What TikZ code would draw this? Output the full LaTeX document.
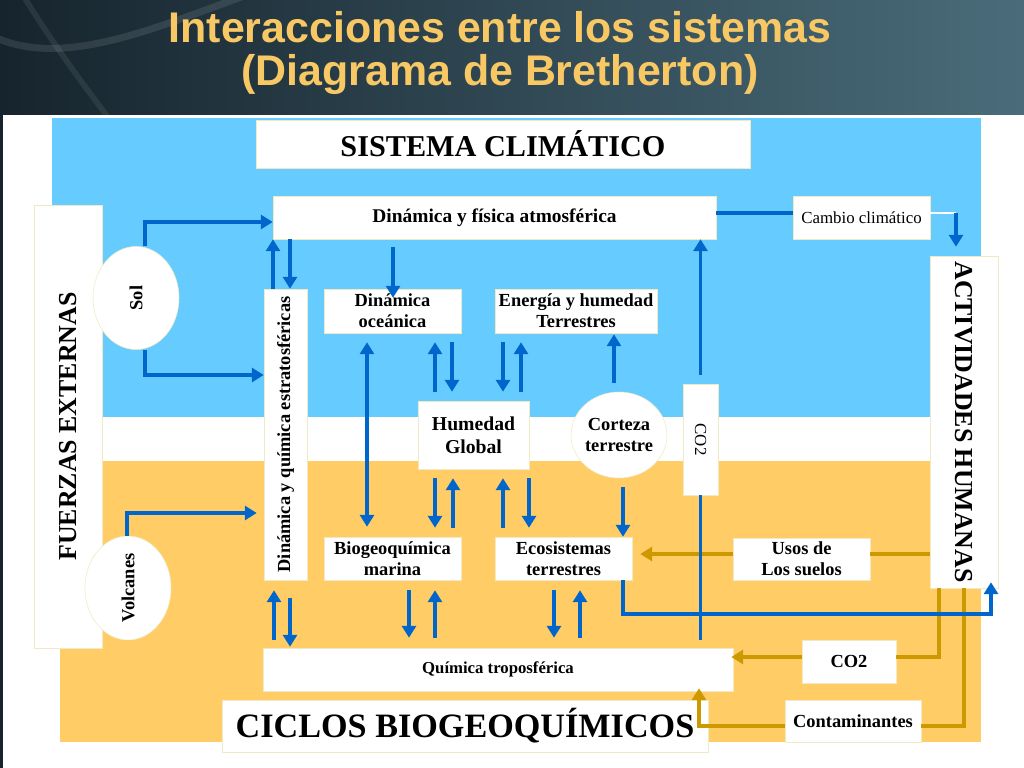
\documentclass[tikz,border=0pt]{standalone}
\usepackage{fontspec}
\usepackage{graphicx}
\setmainfont{Liberation Serif}
\newfontfamily\headfont{Liberation Sans}
\usetikzlibrary{arrows.meta,positioning,calc,shapes.geometric}
\definecolor{BretBlue}{HTML}{0066CC}
\definecolor{BretGold}{HTML}{CC9900}
\definecolor{BretSky}{HTML}{66CCFF}
\definecolor{BretSand}{HTML}{FFCC66}
\definecolor{BretEdge}{HTML}{EFEAC4}
\definecolor{BretTitle}{HTML}{F8C864}
\definecolor{BgDark}{HTML}{16242D}
\definecolor{BgLight}{HTML}{4A6C7A}
\newcommand{\pxu}{0.025cm}
\newcommand{\lblfont}{\fontsize{13.1pt}{15pt}\selectfont\bfseries}

\begin{document}
\begin{tikzpicture}[x=0.025cm,y=-0.025cm]
    \tikzset{sysbox/.style={draw=BretEdge,line width=0.4pt,fill=white,inner sep=0pt,
      align=center,font=\lblfont},
      sysoval/.style={sysbox,ellipse},
      boxsize/.style 2 args={minimum width=#1*\pxu,minimum height=#2*\pxu},
      gap/.style={shorten <=#1*\pxu,shorten >=#1*\pxu},
      flow/.style={-{Triangle[length=8.5pt,width=10pt]},BretBlue,line width=2.8pt},
      flowboth/.style={flow,{Triangle[length=8.5pt,width=10pt]}-{Triangle[length=8.5pt,width=10pt]}},
      flowline/.style={BretBlue,line width=2.8pt},
      goldflow/.style={-{Triangle[length=8.5pt,width=10pt]},BretGold,line width=2.8pt},
      goldline/.style={BretGold,line width=2.8pt}}
    \useasboundingbox (0,0) rectangle (1024,768);
    % backdrop, panel and the two spheres
    \shade[left color=BgDark,right color=BgLight] (0,0) rectangle (1024,768);
    \draw[white,opacity=0.10,line width=5pt] (-10,35) .. controls (60,70) and (150,30) .. (260,-10);
    \draw[white,opacity=0.08,line width=4pt] (20,-10) .. controls (50,40) and (80,80) .. (110,120);
    \fill[white] (3,115) rectangle (1024,768);
    \fill[BretSky] (52,118) rectangle (981,417);
    \fill[BretSand] (60,461) rectangle (981,742);
    \node[anchor=base,text=BretTitle,font=\headfont\bfseries\fontsize{30.5pt}{36pt}\selectfont]
      (tit1) at (500,43) {Interacciones entre los sistemas};
    \node[anchor=base,text=BretTitle,font=\headfont\bfseries\fontsize{30.5pt}{36pt}\selectfont]
      (tit2) at (500,86) {(Diagrama de Bretherton)};
    % boxes
    \node[sysbox,boxsize={494}{48},font=\fontsize{21.5pt}{26pt}\selectfont\bfseries] (clima) at (503,144) {SISTEMA CLIMÁTICO};
    \node[sysbox,boxsize={443}{43},font=\fontsize{13.8pt}{16pt}\selectfont\bfseries] (atm) at (494.5,217.5) {Dinámica y física atmosférica};
    \node[sysbox,boxsize={137}{43},font=\fontsize{12pt}{14pt}\selectfont] (cambio) at (861.5,217.5) {Cambio climático};
    \node[sysbox,boxsize={68}{443},font=\fontsize{18.4pt}{22pt}\selectfont\bfseries] (fuerzas) at (68,426.5) {\rotatebox{90}{FUERZAS EXTERNAS}};
    \node[sysoval,boxsize={86}{103}] (sol) at (136,298) {\rotatebox{90}{Sol}};
    \node[sysoval,boxsize={86}{104}] (volc) at (128,588) {\rotatebox{90}{Volcanes}};
    \node[sysbox,boxsize={43}{291}] (strat) at (285.5,434.5) {\rotatebox{90}{Dinámica y química estratosféricas}};
    \node[sysbox,boxsize={68}{332},font=\fontsize{18.4pt}{22pt}\selectfont\bfseries] (act) at (964,422) {\rotatebox{-90}{ACTIVIDADES HUMANAS}};
    \node[sysbox,boxsize={137}{44}] (ocean) at (392.5,311) {Dinámica\\oceánica};
    \node[sysbox,boxsize={162}{44}] (energia) at (576,311) {Energía y humedad\\Terrestres};
    \node[sysbox,boxsize={111}{68},font=\fontsize{14pt}{16.5pt}\selectfont\bfseries] (humedad) at (473.5,435) {Humedad\\Global};
    \node[sysoval,boxsize={92}{86}] (corteza) at (619,435) {Corteza\\terrestre};
    \node[sysbox,boxsize={35}{111},font=\fontsize{12pt}{14pt}\selectfont] (co2a) at (700.5,439.5) {\rotatebox{-90}{CO2}};
    \node[sysbox,boxsize={137}{43}] (marina) at (392.5,558.5) {Biogeoquímica\\marina};
    \node[sysbox,boxsize={137}{43}] (ecos) at (563.5,558.5) {Ecosistemas\\terrestres};
    \node[sysbox,boxsize={137}{42}] (usos) at (801.5,559) {Usos de\\Los suelos};
    \node[sysbox,boxsize={470}{43},font=\fontsize{11.9pt}{14pt}\selectfont\bfseries] (tropo) at (498,669.5) {Química troposférica};
    \node[sysbox,boxsize={486}{52},font=\fontsize{24.3pt}{28pt}\selectfont\bfseries] (ciclos) at (465,726) {CICLOS BIOGEOQUÍMICOS};
    \node[sysbox,boxsize={94}{43}] (co2b) at (849,661.5) {CO2};
    \node[sysbox,boxsize={136}{42}] (contam) at (853,721) {Contaminantes};
    % human activities
    \draw[goldline] ([yshift=5*\pxu]act.west |- usos.east) -- ([yshift=5*\pxu]usos.east);
    \draw[goldflow,shorten >=8*\pxu] ([yshift=5*\pxu]usos.west) -- ([yshift=5*\pxu]usos.west -| ecos.east);
    \draw[goldline] ([xshift=-25*\pxu]act.south) |- ([yshift=4.5*\pxu]co2b.east);
    \draw[goldflow,shorten >=-2*\pxu] ([yshift=4.5*\pxu]co2b.west) -- ([yshift=4.5*\pxu]co2b.west -| tropo.east);
    \draw[goldline] (act.south) |- ([yshift=-5*\pxu]contam.east);
    \draw[goldflow,shorten >=-3*\pxu] ([yshift=-5*\pxu]contam.west) -| ([xshift=201*\pxu]tropo.south);
    % sun and volcanoes
    \draw[flow] (145,0 |- sol.north) |- ([yshift=-4.5*\pxu]atm.west);
    \draw[flow] (145,0 |- sol.south) |- ([yshift=59.5*\pxu]strat.west);
    \draw[flow,shorten >=7*\pxu] (127,0 |- volc.north) |- ([yshift=-78.5*\pxu]strat.west);
    % stratosphere
    \draw[flow] (273,0 |- strat.north) -- (273,0 |- atm.south);
    \draw[flow] (290,0 |- atm.south) -- (290,0 |- strat.north);
    \draw[flow,shorten <=8*\pxu,shorten >=10*\pxu] (274,0 |- tropo.north) -- (274,0 |- strat.south);
    \draw[flow,shorten <=18*\pxu,shorten >=1*\pxu] (290,0 |- strat.south) -- (290,0 |- tropo.north);
    % ocean, land and moisture
    \draw[flow,shorten <=8*\pxu,shorten >=-9*\pxu] (393,0 |- atm.south) -- (393,0 |- ocean.north);
    \draw[flowboth,shorten <=9*\pxu,shorten >=10*\pxu] (367,0 |- ocean.south) -- (367,0 |- marina.north);
    \draw[flow,gap=9] (435,0 |- humedad.north) -- (435,0 |- ocean.south);
    \draw[flow,gap=9] (452,0 |- ocean.south) -- (452,0 |- humedad.north);
    \draw[flow,gap=9] (503,0 |- energia.south) -- (503,0 |- humedad.north);
    \draw[flow,gap=9] (521,0 |- humedad.north) -- (521,0 |- energia.south);
    \draw[flow,gap=9] (435,0 |- humedad.south) -- (435,0 |- marina.north);
    \draw[flow,gap=9] (453,0 |- marina.north) -- (453,0 |- humedad.south);
    \draw[flow,gap=9] (503,0 |- ecos.north) -- (503,0 |- humedad.south);
    \draw[flow,gap=9] (529,0 |- humedad.south) -- (529,0 |- ecos.north);
    \draw[flow,gap=10] (409,0 |- marina.south) -- (409,0 |- tropo.north);
    \draw[flow,gap=10] (435,0 |- tropo.north) -- (435,0 |- marina.south);
    \draw[flow,gap=10] (554,0 |- ecos.south) -- (554,0 |- tropo.north);
    \draw[flow,gap=10] (580,0 |- tropo.north) -- (580,0 |- ecos.south);
    \draw[flow,shorten <=9*\pxu,shorten >=1*\pxu] (614,0 |- corteza.north) -- (614,0 |- energia.south);
    \draw[flow,shorten <=9*\pxu] (623,0 |- corteza.south) -- (623,0 |- ecos.north);
    % carbon and climate change
    \draw[flow,shorten <=9*\pxu] (co2a.north) -- (co2a.north |- atm.south);
    \draw[flowline,shorten <=8*\pxu] (co2a.south |- tropo.north) -- (co2a.south);
    \draw[flow,shorten >=-6*\pxu] (623,0 |- ecos.south) -- ++(0,34) -| (991,0 |- act.south);
    \draw[flowline] ([yshift=4.5*\pxu]atm.east) -- ([yshift=4.5*\pxu]cambio.west);
    \coordinate (ccturn) at (956,213);
    \draw[white,line width=0.8pt] (cambio.east |- ccturn) -- (ccturn);
    \draw[flow,shorten >=9*\pxu] (ccturn) -- (ccturn |- act.north);
  \end{tikzpicture}
\end{document}
